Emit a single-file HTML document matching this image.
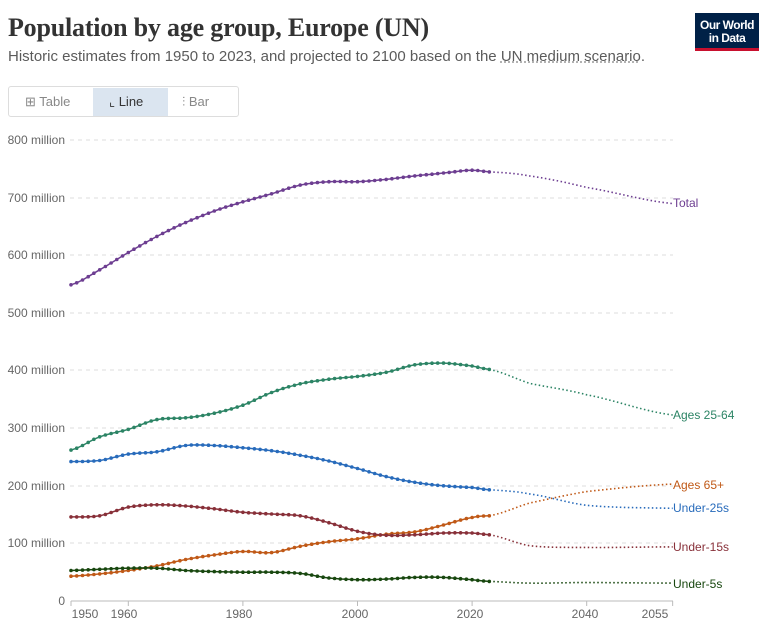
<!DOCTYPE html>
<html><head><meta charset="utf-8"><style>
body{margin:0;width:767px;height:637px;background:#fff;font-family:"Liberation Sans",sans-serif;overflow:hidden;position:relative}
.t{position:absolute;left:8px;top:13px;font-family:"Liberation Serif",serif;font-size:26px;font-weight:bold;color:#333;letter-spacing:-0.2px}
.s{position:absolute;left:8px;top:48px;font-size:15px;color:#5b5b5b}
.s u{text-decoration:underline dotted #999}
.logo{position:absolute;left:695px;top:13px;width:64px;height:38px;background:#002147;border-bottom:3px solid #c8102e;color:#fff;font-size:12px;line-height:13px;text-align:center;box-sizing:border-box;padding-top:6px;font-weight:bold;letter-spacing:-0.5px}
.tabs{position:absolute;left:8px;top:86px;width:231px;height:31px;border:1px solid #ddd;border-radius:3px;box-sizing:border-box;font-size:13px;color:#888}
.tabs span{position:absolute;top:7px}
.act{position:absolute;left:84px;top:1px;width:75px;height:28px;background:#dbe5f0}
</style></head><body>
<div class="t">Population by age group, Europe (UN)</div>
<div class="s">Historic estimates from 1950 to 2023, and projected to 2100 based on the <u>UN medium scenario</u>.</div>
<div class="logo">Our World<br>in Data</div>
<div class="tabs"><div class="act"></div><span style="left:16px">⊞ Table</span><span style="left:100px;color:#333">⌞ Line</span><span style="left:173px">⫶ Bar</span></div>
<svg id="c" width="767" height="637" style="position:absolute;left:0;top:0" font-family="Liberation Sans, sans-serif"></svg>
<script>
const X=y=>71+(y-1950)*5.73, Y=v=>601-v*0.576;
let s='';
[[800,140],[700,198],[600,255],[500,313],[400,370],[300,428],[200,486],[100,543]].forEach(([v,y])=>{
s+=`<line x1="70" x2="673" y1="${y}" y2="${y}" stroke="#ddd" stroke-dasharray="4,4"/><text x="65" y="${y+4}" font-size="12" fill="#666" text-anchor="end">${v} million</text>`;});
s+=`<text x="65" y="605" font-size="12" fill="#666" text-anchor="end">0</text><line x1="71" x2="673" y1="601" y2="601" stroke="#bbb"/>`;
[[1950,85],[1960,124],[1980,239],[2000,355],[2020,470],[2040,585],[2055,655]].forEach(([yr,lx])=>{
s+=`<line x1="${X(yr)}" x2="${X(yr)}" y1="601" y2="606" stroke="#bbb"/><text x="${lx}" y="618" font-size="12" fill="#666" text-anchor="middle">${yr}</text>`;});
const D=[
['#6d3e91','Total',203,[[1950,549],[1955,575],[1960,605],[1965,633],[1970,657],[1975,677],[1980,693],[1985,707],[1990,722],[1995,728],[2000,728],[2005,732],[2010,738],[2015,743],[2020,748],[2023,745]],[[2023,745],[2030,738],[2040,718],[2055,690]]],
['#2c8465','Ages 25-64',415,[[1950,262],[1955,285],[1960,298],[1965,315],[1970,318],[1975,326],[1980,340],[1985,362],[1990,377],[1995,385],[2000,390],[2005,397],[2010,410],[2015,413],[2020,408],[2023,402]],[[2023,402],[2030,378],[2040,358],[2055,323]]],
['#286bbb','Under-25s',508,[[1950,242],[1955,244],[1960,255],[1965,259],[1970,270],[1975,270],[1980,266],[1985,261],[1990,253],[1995,243],[2000,230],[2005,216],[2010,206],[2015,200],[2020,197],[2023,193]],[[2023,193],[2030,186],[2040,166],[2055,161]]],
['#c05917','Ages 65+',485,[[1950,43],[1955,47],[1960,53],[1965,61],[1970,72],[1975,80],[1980,86],[1985,84],[1990,95],[1995,103],[2000,108],[2005,116],[2010,120],[2015,132],[2020,145],[2023,148]],[[2023,148],[2030,170],[2040,190],[2055,203]]],
['#883039','Under-15s',547,[[1950,146],[1955,148],[1960,163],[1965,167],[1970,165],[1975,160],[1980,154],[1985,151],[1990,148],[1995,136],[2000,121],[2005,114],[2010,115],[2015,118],[2020,118],[2023,115]],[[2023,115],[2030,96],[2040,93],[2055,94]]],
['#18470f','Under-5s',584,[[1950,53],[1955,55],[1960,57],[1965,57],[1970,53],[1975,51],[1980,50],[1985,50],[1990,48],[1995,40],[2000,37],[2005,38],[2010,41],[2015,41],[2020,37],[2023,34]],[[2023,34],[2030,31],[2040,32],[2055,31]]]];
function interp(p,yr){for(let i=0;i<p.length-1;i++){if(yr>=p[i][0]&&yr<=p[i+1][0]){const a=p[Math.max(i-1,0)],b=p[i],c=p[i+1],d=p[Math.min(i+2,p.length-1)];const t=(yr-b[0])/(c[0]-b[0]);const m1=(c[1]-a[1])/2,m2=(d[1]-b[1])/2;const t2=t*t,t3=t2*t;return (2*t3-3*t2+1)*b[1]+(t3-2*t2+t)*m1+(-2*t3+3*t2)*c[1]+(t3-t2)*m2;}}return p[p.length-1][1];}
D.forEach(([c,l,ly,h,pr])=>{
let pts=[];for(let yr=1950;yr<=2023;yr++)pts.push([X(yr),Y(interp(h,yr))]);
s+=`<polyline fill="none" stroke="${c}" stroke-width="1.5" points="${pts.map(p=>p.map(v=>v.toFixed(1)).join(',')).join(' ')}"/>`;
pts.forEach(p=>s+=`<circle cx="${p[0].toFixed(1)}" cy="${p[1].toFixed(1)}" r="1.8" fill="${c}"/>`);
let q=[];for(let yr=2023;yr<=2055;yr++)q.push([X(yr),Y(interp(pr,yr))]);
s+=`<polyline fill="none" stroke="${c}" stroke-width="1.6" stroke-dasharray="1.5,2.5" points="${q.map(p=>p.map(v=>v.toFixed(1)).join(',')).join(' ')}"/>`;
s+=`<text x="673" y="${ly+4}" font-size="12" fill="${c}">${l}</text>`;});
document.getElementById('c').innerHTML=s;
</script>
</body></html>
